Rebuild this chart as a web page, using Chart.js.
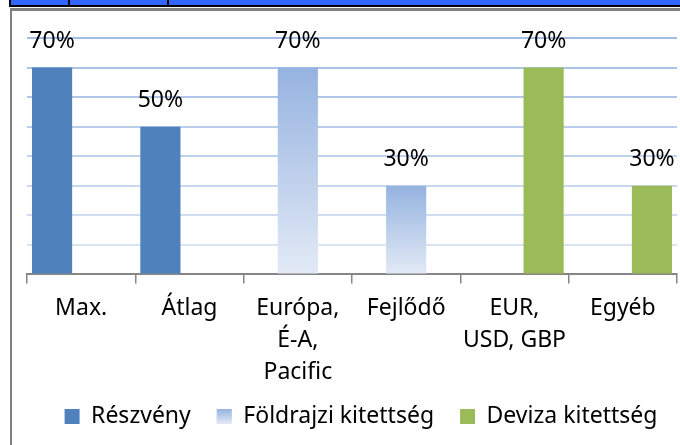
<!DOCTYPE html>
<html>
<head>
<meta charset="utf-8">
<script src="https://cdn.jsdelivr.net/npm/chart.js@4/dist/chart.umd.min.js"></script>
<style>
  html, body { margin: 0; padding: 0; background: #fff; }
  body { width: 680px; height: 445px; position: relative; overflow: hidden; }
  #strip { position: absolute; left: 9px; top: 0; width: 671px; height: 5px; background: #3366ff;
           border-left: 2px solid #000; border-bottom: 2px solid #000; overflow: hidden; }
  .sep { position: absolute; top: 0; width: 2px; height: 5px; background: #000; }
  .cell { position: absolute; top: -14px; color: #fff; font: bold 16px "Liberation Sans", sans-serif; white-space: nowrap; }
  #frameTop { position: absolute; left: 10px; top: 8px; width: 670px; height: 3px; background: #808080; }
  #frameLeft { position: absolute; left: 10px; top: 8px; width: 2px; height: 437px; background: #808080; }
  #wrap { position: absolute; left: 0; top: 0; width: 680px; height: 445px; }
</style>
</head>
<body>
<div id="strip">
  <div class="sep" style="left:57px"></div>
  <div class="sep" style="left:156px"></div>
  <span class="cell" style="left:86px">100%</span>
  <span class="cell" style="left:183px">Portfolio</span>
</div>
<div id="frameTop"></div>
<div id="frameLeft"></div>
<div id="wrap"><canvas id="barChart"></canvas></div>
<script>
var categories = ['Max.', 'Átlag', ['Európa,', 'É-A,', 'Pacific'], 'Fejlődő', ['EUR,', 'USD, GBP'], 'Egyéb'];
var reszveny = [70, 50, null, null, null, null];
var foldrajzi = [null, null, 70, 30, null, null];
var deviza = [null, null, null, null, 70, 30];
var yTicks = [0, 10, 20, 30, 40, 50, 60, 70, 80];

var FONT = 'Noto Sans';
var FSIZE = 23;

function barGradient(context) {
    var chart = context.chart;
    if (context.type !== 'data' || context.raw == null || !chart.scales.y) return '#a4bde6';
    var top = chart.scales.y.getPixelForValue(context.raw);
    var bottom = chart.scales.y.getPixelForValue(0);
    var g = chart.ctx.createLinearGradient(0, top, 0, bottom);
    g.addColorStop(0, '#95b3e0');
    g.addColorStop(1, '#e3eaf6');
    return g;
}

function gridColor(context) {
    // lighter towards the bottom
    var t = (context.tick ? context.tick.value : 0) / 80;
    var r = Math.round(224 - 62 * t), gr = Math.round(232 - 44 * t), b = Math.round(245 - 18 * t);
    return 'rgb(' + r + ',' + gr + ',' + b + ')';
}

var valueLabels = {
    id: 'valueLabels',
    afterLayout: function(chart) {
        // nudge legend like the original: a bit right and up
        chart.legend.left += 9;
        chart.legend.right += 9;
        chart.legend.top -= 19;
        chart.legend.bottom -= 19;
    },
    afterDatasetsDraw: function(chart) {
        var ctx = chart.ctx;
        ctx.save();
        ctx.font = FSIZE + 'px "' + FONT + '"';
        ctx.fillStyle = '#000';
        ctx.textAlign = 'center';
        ctx.textBaseline = 'alphabetic';
        chart.data.datasets.forEach(function(ds, i) {
            var meta = chart.getDatasetMeta(i);
            meta.data.forEach(function(bar, j) {
                if (ds.data[j] == null) return;
                ctx.fillText(ds.data[j] + '%', bar.x, bar.y - 20);
            });
        });
        ctx.restore();
    },
    afterDraw: function(chart) {
        // gradient legend box for Földrajzi kitettség
        var hb = chart.legend.legendHitBoxes[1];
        if (!hb) return;
        var ctx = chart.ctx;
        var top = hb.top + Math.max((FSIZE - 15) / 2, 0);
        var g = ctx.createLinearGradient(0, top, 0, top + 15);
        g.addColorStop(0, '#95b3e0');
        g.addColorStop(1, '#e3eaf6');
        ctx.save();
        ctx.fillStyle = '#fff';
        ctx.fillRect(hb.left, top, 15, 15);
        ctx.fillStyle = g;
        ctx.fillRect(hb.left, top, 15, 15);
        ctx.restore();
    }
};

var barctx = document.getElementById('barChart').getContext('2d');
var barChart = new Chart(barctx, {
    type: 'bar',
    data: {
        labels: categories,
        datasets: [{
            label: 'Részvény',
            data: reszveny,
            backgroundColor: '#4f81bd',
            borderWidth: 0
        }, {
            label: 'Földrajzi kitettség',
            data: foldrajzi,
            backgroundColor: barGradient,
            borderWidth: 0
        }, {
            label: 'Deviza kitettség',
            data: deviza,
            backgroundColor: '#9bbb59',
            borderWidth: 0
        }]
    },
    options: {
        responsive: true,
        maintainAspectRatio: false,
        animation: false,
        categoryPercentage: 0.806,
        barPercentage: 1.38,
        layout: {
            padding: { left: 27, right: 3, top: 38, bottom: -12 }
        },
        scales: {
            x: {
                grid: {
                    display: true,
                    drawOnChartArea: false,
                    tickLength: 9,
                    color: '#868686',
                    lineWidth: 1.5
                },
                border: { display: true, color: '#868686', width: 2 },
                ticks: {
                    color: '#000',
                    padding: 9,
                    maxRotation: 0,
                    autoSkip: false,
                    font: { family: FONT, size: FSIZE, lineHeight: 1.4 }
                }
            },
            y: {
                min: 0,
                max: 80,
                afterBuildTicks: function(axis) {
                    axis.ticks = yTicks.map(function(v) { return { value: v }; });
                },
                grid: {
                    drawTicks: false,
                    tickLength: 0,
                    color: gridColor,
                    lineWidth: 2
                },
                border: { display: false },
                ticks: { display: false }
            }
        },
        plugins: {
            legend: {
                position: 'bottom',
                labels: {
                    color: '#000',
                    boxWidth: 15,
                    boxHeight: 15,
                    padding: 26,
                    font: { family: FONT, size: FSIZE }
                }
            },
            tooltip: { enabled: false }
        }
    },
    plugins: [valueLabels]
});
</script>
</body>
</html>
